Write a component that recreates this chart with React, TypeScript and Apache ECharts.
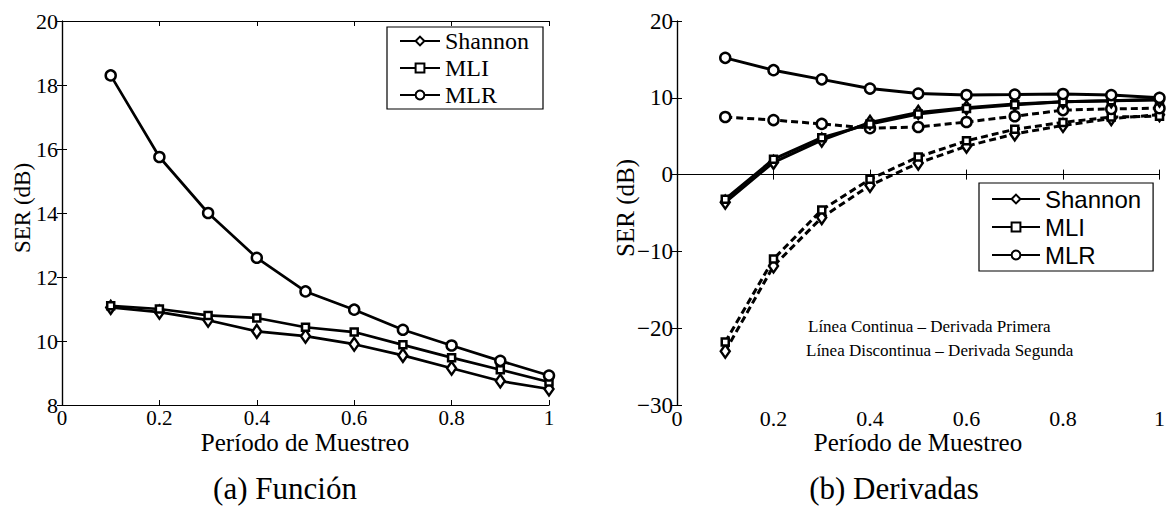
import React, { useEffect, useRef } from "react";
import * as echarts from "echarts";

const periods = [0.1, 0.2, 0.3, 0.4, 0.5, 0.6, 0.7, 0.8, 0.9, 1.0];

// (a) Función
const fnShannon = [11.05, 10.9, 10.65, 10.3, 10.15, 9.9, 9.55, 9.15, 8.75, 8.5];
const fnMLI = [11.1, 11.0, 10.8, 10.72, 10.43, 10.28, 9.88, 9.48, 9.1, 8.72];
const fnMLR = [18.3, 15.75, 14.0, 12.6, 11.55, 10.98, 10.35, 9.86, 9.38, 8.92];

// (b) Derivadas — primera (continua)
const d1Shannon = [-3.6, 1.6, 4.5, 6.8, 8.1, 8.7, 9.2, 9.5, 9.6, 9.7];
const d1MLI = [-3.2, 2.0, 4.8, 6.6, 7.9, 8.6, 9.1, 9.5, 9.6, 9.8];
const d1MLR = [15.2, 13.6, 12.4, 11.2, 10.55, 10.37, 10.42, 10.5, 10.35, 10.0];

// (b) Derivadas — segunda (discontinua)
const d2Shannon = [-23.0, -11.9, -5.6, -1.4, 1.5, 3.7, 5.3, 6.4, 7.3, 7.8];
const d2MLI = [-21.8, -11.0, -4.6, -0.6, 2.3, 4.4, 5.9, 6.8, 7.5, 7.6];
const d2MLR = [7.5, 7.1, 6.6, 6.05, 6.2, 6.85, 7.6, 8.4, 8.55, 8.65];

const legendNames = ["Shannon", "MLI", "MLR"];
const xTicks = { min: 0, max: 1, interval: 0.2 };
const yTicksA = { min: 8, max: 20, interval: 2 };
const yTicksB = { min: -30, max: 20, interval: 10 };

const SERIF = "Liberation Serif, Times New Roman, serif";
const SANS = "Liberation Sans, Arial, sans-serif";

const pairs = (ys: number[]) => periods.map((x, i) => [x, ys[i]]);

const symbolOf: Record<string, any> = {
  Shannon: { symbol: "diamond", size: [9, 13] },
  MLI: { symbol: "rect", size: 7 },
  MLR: { symbol: "circle", size: 10 },
};

function mkSeries(name: string, ys: number[], gi: number, dashed: boolean, width: number) {
  const s = symbolOf[name];
  return {
    type: "line",
    name: dashed ? name + " (2ª)" : name,
    xAxisIndex: gi * 2,
    yAxisIndex: gi * 2,
    data: pairs(ys),
    symbol: s.symbol,
    symbolSize: s.size,
    showAllSymbol: true,
    itemStyle: { color: "#fff", borderColor: "#000", borderWidth: 2.5 },
    lineStyle: { color: "#000", width, type: dashed ? [7, 4] : "solid" },
    emphasis: { disabled: true },
  };
}

function fmtNum(v: number) {
  const r = Math.round(v * 10) / 10;
  return r < 0 ? "\u2212" + String(Math.abs(r)) : String(r);
}

function axisPair(gi: number, kind: "x" | "y", ticks: any, fontSize: number) {
  const common = {
    type: "value",
    gridIndex: gi,
    min: ticks.min,
    max: ticks.max,
    interval: ticks.interval,
    splitLine: { show: false },
    axisLine: { show: true, lineStyle: { color: "#000", width: 1.2 } },
    axisTick: { show: true, inside: true, length: 5, lineStyle: { color: "#000", width: 1 } },
  };
  return [
    {
      ...common,
      position: kind === "x" ? "bottom" : "left",
      axisLabel: {
        show: true,
        color: "#000",
        fontFamily: SERIF,
        fontSize,
        margin: kind === "x" ? 2 : 4,
        formatter: fmtNum,
      },
    },
    {
      ...common,
      position: kind === "x" ? "top" : "right",
      axisLabel: { show: false },
    },
  ];
}

export default function App() {
  const ref = useRef<HTMLDivElement>(null);
  useEffect(() => {
    if (!ref.current) return;
    const chart = echarts.init(ref.current, null, { renderer: "svg" });
    const option: any = {
      animation: false,
      backgroundColor: "#fff",
      grid: [
        { left: 62, top: 21, width: 487, height: 384 },
        { left: 677, top: 21, width: 487, height: 384 },
      ],
      xAxis: [...axisPair(0, "x", xTicks, 21), ...axisPair(1, "x", xTicks, 22)],
      yAxis: [...axisPair(0, "y", yTicksA, 22), ...axisPair(1, "y", yTicksB, 23)],
      legend: [
        {
          data: legendNames,
          orient: "vertical",
          left: 387,
          top: 27,
          padding: [2, 14, 2, 12],
          itemGap: 3,
          itemWidth: 40,
          itemHeight: 11,
          borderColor: "#000",
          borderWidth: 1.2,
          backgroundColor: "#fff",
          selectedMode: false,
          textStyle: { fontFamily: SERIF, fontSize: 24, color: "#000" },
        },
        {
          data: legendNames,
          orient: "vertical",
          left: 979,
          top: 183,
          padding: [4, 12, 4, 12],
          itemGap: 4,
          itemWidth: 48,
          itemHeight: 11,
          borderColor: "#000",
          borderWidth: 1.2,
          backgroundColor: "#fff",
          selectedMode: false,
          textStyle: { fontFamily: SANS, fontSize: 24, color: "#000" },
        },
      ],
      series: [
        mkSeries("Shannon", fnShannon, 0, false, 2.7),
        mkSeries("MLI", fnMLI, 0, false, 2.7),
        mkSeries("MLR", fnMLR, 0, false, 2.7),
        mkSeries("Shannon", d2Shannon, 1, true, 3),
        mkSeries("MLI", d2MLI, 1, true, 3),
        mkSeries("MLR", d2MLR, 1, true, 3),
        mkSeries("Shannon", d1Shannon, 1, false, 3),
        mkSeries("MLI", d1MLI, 1, false, 3),
        mkSeries("MLR", d1MLR, 1, false, 3),
      ],
      graphic: [
        {
          type: "text",
          x: 22,
          y: 208,
          rotation: Math.PI / 2,
          style: { text: "SER (dB)", fontFamily: SERIF, fontSize: 23, fill: "#000", align: "center", verticalAlign: "middle" },
        },
        {
          type: "text",
          x: 625,
          y: 208,
          rotation: Math.PI / 2,
          style: { text: "SER (dB)", fontFamily: SERIF, fontSize: 25, fill: "#000", align: "center", verticalAlign: "middle" },
        },
        {
          type: "text",
          x: 305,
          y: 442,
          style: { text: "Período de Muestreo", fontFamily: SERIF, fontSize: 25, fill: "#000", align: "center", verticalAlign: "middle" },
        },
        {
          type: "text",
          x: 918,
          y: 442,
          style: { text: "Período de Muestreo", fontFamily: SERIF, fontSize: 25, fill: "#000", align: "center", verticalAlign: "middle" },
        },
        {
          type: "text",
          x: 285,
          y: 488,
          style: { text: "(a) Función", fontFamily: SERIF, fontSize: 31, fill: "#000", align: "center", verticalAlign: "middle" },
        },
        {
          type: "text",
          x: 894,
          y: 488,
          style: { text: "(b) Derivadas", fontFamily: SERIF, fontSize: 31, fill: "#000", align: "center", verticalAlign: "middle" },
        },
        {
          type: "text",
          x: 808,
          y: 326,
          style: { text: "Línea Continua – Derivada Primera", fontFamily: SERIF, fontSize: 17, fill: "#000", align: "left", verticalAlign: "middle" },
        },
        {
          type: "text",
          x: 806,
          y: 350,
          style: { text: "Línea Discontinua – Derivada Segunda", fontFamily: SERIF, fontSize: 17, fill: "#000", align: "left", verticalAlign: "middle" },
        },
      ],
    };
    chart.setOption(option);
    return () => chart.dispose();
  }, []);
  return (
    <div
      ref={ref}
      style={{ position: "fixed", left: 0, top: 0, width: 1168, height: 510, background: "#fff" }}
    />
  );
}
